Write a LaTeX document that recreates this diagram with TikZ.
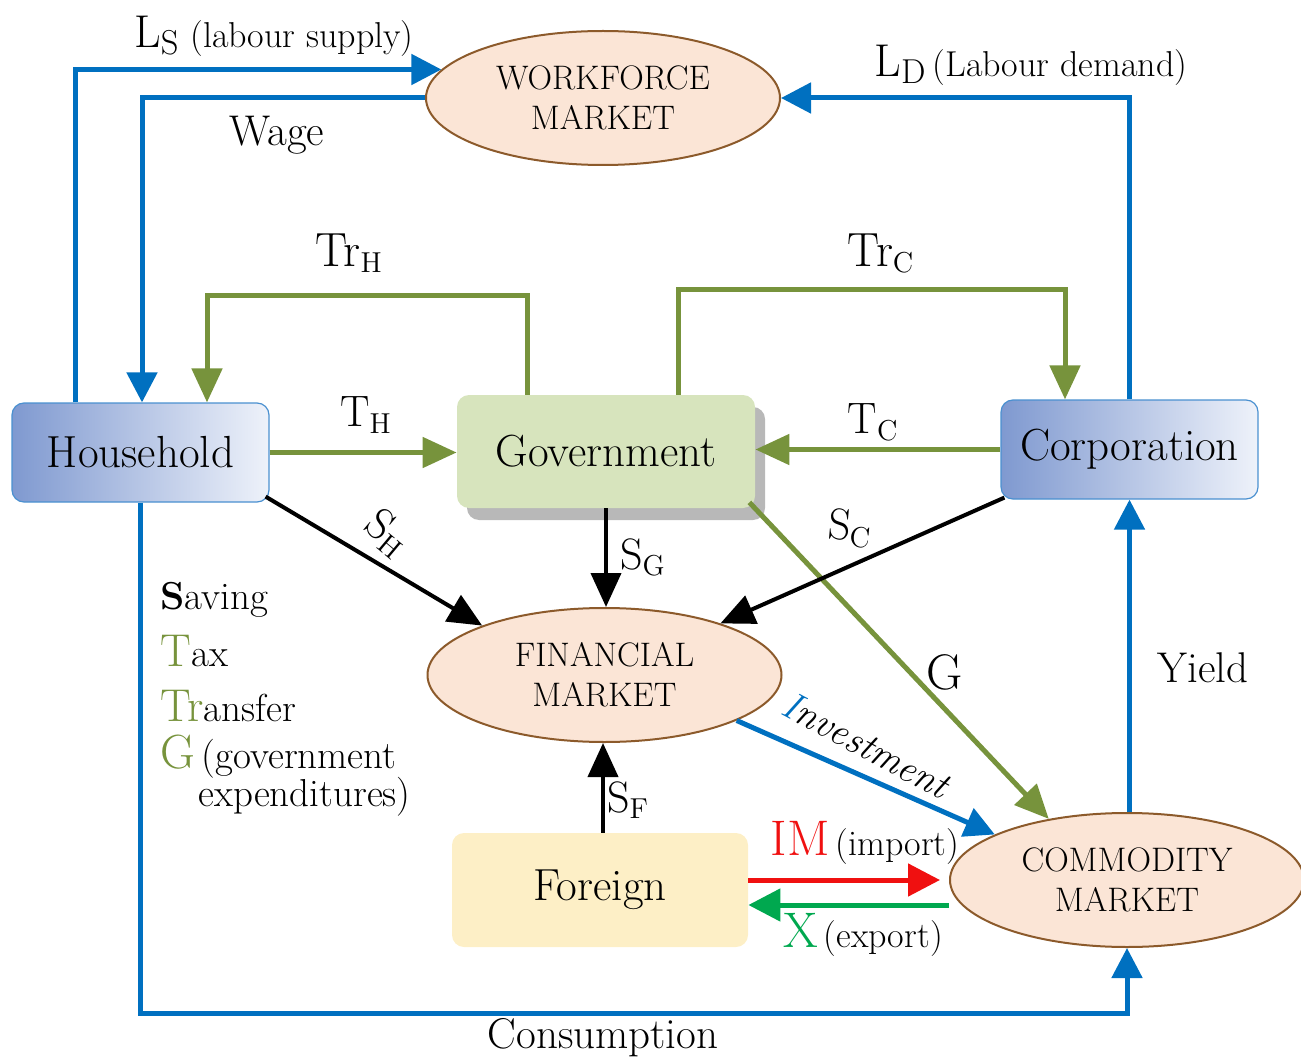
\documentclass[tikz,border=0pt]{standalone}
\usepackage{amsmath, amssymb}
\usepackage{tikz}
\usetikzlibrary{arrows.meta,shapes.geometric,shadows}

\definecolor{flowblue}{HTML}{0070C0}
\definecolor{flowgreen}{HTML}{77933C}
\definecolor{marketfill}{HTML}{FBE5D6}
\definecolor{marketline}{HTML}{8C5A2B}
\definecolor{agentdark}{HTML}{7F99D0}
\definecolor{agentlight}{HTML}{EEF2FA}
\definecolor{agentline}{HTML}{4A90D0}
\definecolor{govfill}{HTML}{D7E4BD}
\definecolor{foreignfill}{HTML}{FDEFC6}
\definecolor{imred}{HTML}{F01010}
\definecolor{xgreen}{HTML}{00A84F}

\tikzset{
  market/.style={ellipse, draw=marketline, line width=1pt, fill=marketfill,
    minimum width=177pt, minimum height=67pt, inner sep=0pt, align=center,
    font=\fontsize{17}{20}\selectfont},
  agent/.style={rectangle, rounded corners=6pt, draw=agentline, line width=0.6pt,
    left color=agentdark, right color=agentlight,
    minimum width=128.5pt, minimum height=49.5pt, font=\fontsize{22.5}{26}\selectfont},
  govbox/.style={rectangle, rounded corners=6pt, fill=govfill,
    minimum width=149pt, minimum height=56.5pt, font=\fontsize{22.5}{26}\selectfont,
    drop shadow={shadow xshift=5pt, shadow yshift=-6pt, fill=black!28, opacity=1}},
  foreignbox/.style={rectangle, rounded corners=6pt, fill=foreignfill,
    minimum width=148pt, minimum height=57pt, font=\fontsize{22.5}{26}\selectfont},
  blueflow/.style={draw=flowblue, line width=2.5pt,
    -{Triangle[length=15pt,width=15pt]}},
  greenflow/.style={draw=flowgreen, line width=2.5pt,
    -{Triangle[length=17pt,width=15pt]}},
  saveflow/.style={draw=black, line width=2pt,
    -{Triangle[length=17pt,width=15pt]}},
  lbl/.style={inner sep=1pt, font=\fontsize{18}{22}\selectfont},
  wordlbl/.style={inner sep=1pt, font=\fontsize{21.5}{25}\selectfont},
  keylbl/.style={inner sep=1pt, font=\fontsize{19.5}{23}\selectfont},
  biglbl/.style={inner sep=1pt, font=\fontsize{22}{26}\selectfont},
}

\begin{document}
\begin{tikzpicture}[x=0.5pt,y=-0.5pt]
  \useasboundingbox (0,0) rectangle (1301,1059);

  % Markets and agents
  \node[market] (wf) at (603,98) {WORKFORCE\\MARKET};
  \node[market] (fin) at (604.5,675) {FINANCIAL\\MARKET};
  \node[market] (com) at (1127,880) {COMMODITY\\MARKET};
  \node[agent] (hh) at (140.5,452.5) {Household};
  \node[agent] (corp) at (1129.5,449.5) {Corporation};
  \node[govbox] (gov) at (606,451.5) {Government};
  \node[foreignbox] (for) at (600,890) {Foreign};

  % Helper points
  \coordinate (lsx) at (75,70);
  \coordinate (wagex) at (142,98);
  \coordinate (trH) at (207,296);
  \coordinate (trC) at (1065,290);
  \coordinate (cons) at (600,1013);
  \coordinate (imEnd) at (940,880);

  % Labour flows
  \draw[blueflow] (hh.north -| lsx) |- (wf.170);
  \draw[blueflow] (wf.west) -| (hh.north -| wagex);
  \draw[blueflow] (corp.north) |- (wf.east);

  % Transfers and taxes
  \draw[greenflow] ([xshift=-39.5pt]gov.north) |- (trH) -- (hh.north -| trH);
  \draw[greenflow] ([xshift=36pt]gov.north) |- (trC) -- (corp.north -| trC);
  \draw[greenflow] (hh.east) -- (hh.east -| gov.west);
  \draw[greenflow] (corp.west) -- (corp.west -| gov.east);
  \draw[greenflow] ([xshift=-3pt,yshift=3pt]gov.south east) -- (com.142);

  % Savings
  \draw[saveflow] ([xshift=-2pt,yshift=3pt]hh.south east) -- (fin.158);
  \draw[saveflow] (gov.south) -- (gov.south |- fin.north);
  \draw[saveflow] ([xshift=2pt,yshift=1pt]corp.south west) -- (fin.24);
  \draw[saveflow] ([xshift=1.5pt]for.north) -- ([xshift=1.5pt]for.north |- fin.south);

  % Investment, trade, yield, consumption
  \draw[blueflow] (fin.341) -- (com.161);
  \draw[draw=imred, line width=2.5pt, -{Triangle[length=16pt,width=16pt]}]
    ([yshift=5pt]for.east) -- (imEnd);
  \draw[draw=xgreen, line width=2.5pt, -{Triangle[length=16pt,width=16pt]}]
    ([yshift=-12.5pt]com.west) -- ([yshift=-7.5pt]for.east);
  \draw[blueflow] (com.north -| corp.south) -- (corp.south);
  \draw[blueflow] (hh.south) |- (cons) -| (com.south);

  % Labels
  \node[lbl] (lsLbl) at (274,36) {{\fontsize{23}{26}\selectfont L$_{\mathrm{S}}$} (labour supply)};
  \node[lbl] (ldLbl) at (1031,65) {{\fontsize{23}{26}\selectfont L$_{\mathrm{D}}$}\,(Labour demand)};
  \node[wordlbl] (wageLbl) at (277,135) {Wage};
  \node[biglbl] (trHLbl) at (349,253) {{\fontsize{24}{28}\selectfont Tr}$_{\mathrm{H}}$};
  \node[biglbl] (trCLbl) at (881,253) {{\fontsize{24}{28}\selectfont Tr}$_{\mathrm{C}}$};
  \node[biglbl] (tHLbl) at (366,415) {T$_{\mathrm{H}}$};
  \node[biglbl] (tCLbl) at (873,422) {T$_{\mathrm{C}}$};
  \node[biglbl, rotate=-40] (sHLbl) at (387,533) {S$_{\mathrm{H}}$};
  \node[biglbl] (sGLbl) at (643,557) {S$_{\mathrm{G}}$};
  \node[biglbl, rotate=-5] (sCLbl) at (850,528) {S$_{\mathrm{C}}$};
  \node[biglbl] (sFLbl) at (628,800) {S$_{\mathrm{F}}$};
  \node[biglbl, font=\fontsize{25}{28}\selectfont] (gLbl) at (945,672) {G};
  \node[wordlbl] (yieldLbl) at (1203,668) {Yield};
  \node[keylbl, rotate=-28] (invLbl) at (866,745) {\itshape\textcolor{flowblue}{I}nvestment};
  \node[lbl] (imLbl) at (865,843) {{\fontsize{25}{28}\selectfont\textcolor{imred}{IM}}\,(import)};
  \node[lbl] (xLbl) at (863,935) {{\fontsize{25}{28}\selectfont\textcolor{xgreen}{X}}\,(export)};
  \node[wordlbl] (consLbl) at (603,1038) {Consumption};

  % Legend
  \node[keylbl, anchor=west] (lgSave) at (158,600) {\textbf{S}aving};
  \node[keylbl, anchor=west] (lgTax) at (158,651) {{\fontsize{23}{26}\selectfont\textcolor{flowgreen}{T}}ax};
  \node[keylbl, anchor=west] (lgTr) at (158,706) {{\fontsize{23}{26}\selectfont\textcolor{flowgreen}{Tr}}ansfer};
  \node[keylbl, anchor=west] (lgG) at (158,757) {{\fontsize{24}{26}\selectfont\textcolor{flowgreen}{G}}\,(government};
  \node[keylbl, anchor=west] (lgExp) at (196,797) {expenditures)};
\end{tikzpicture}
\end{document}
